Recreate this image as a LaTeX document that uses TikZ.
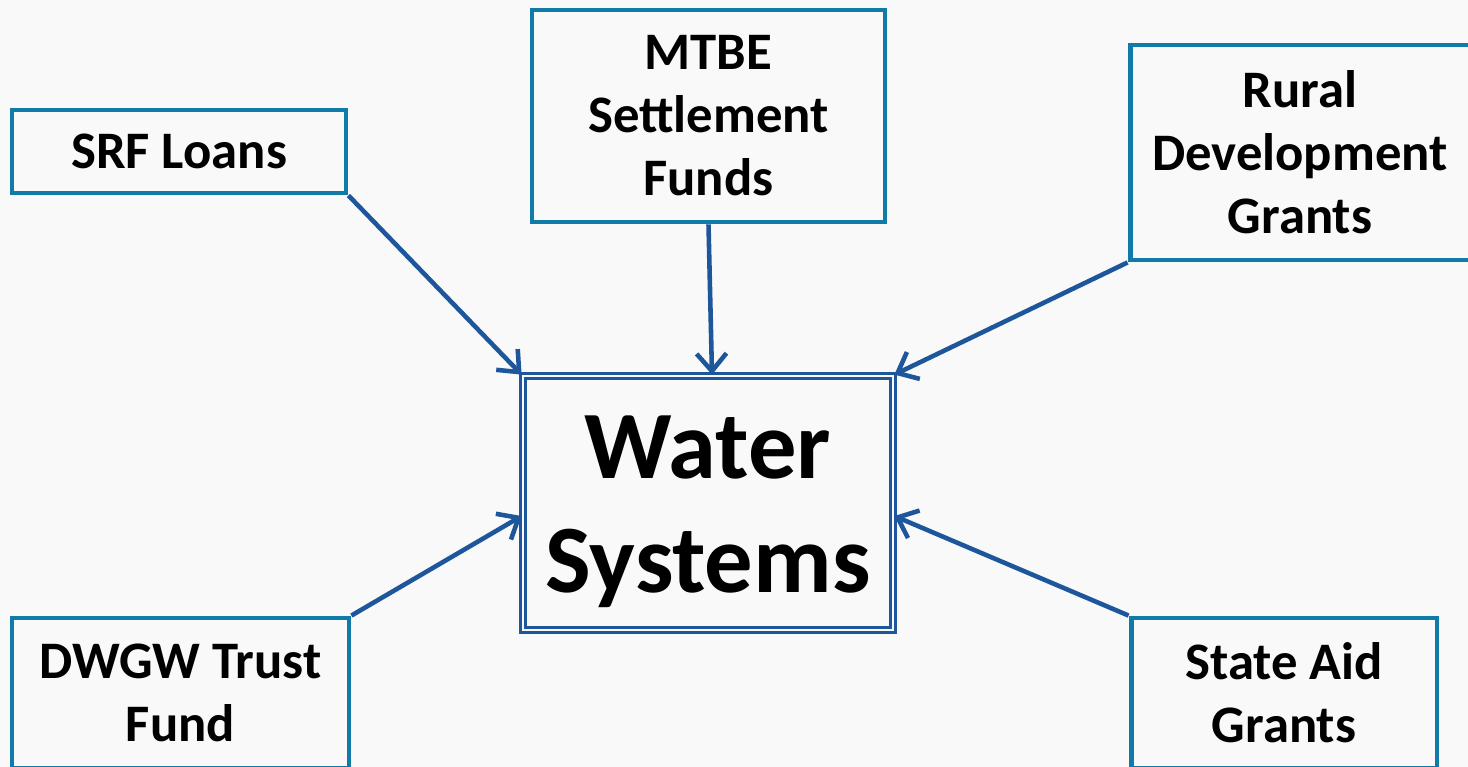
\documentclass[tikz,border=0pt]{standalone}
\usepackage{fontspec}
\setmainfont{Carlito}
\usetikzlibrary{arrows.meta}
\definecolor{boxteal}{RGB}{16,122,168}
\definecolor{arrowblue}{RGB}{30,86,155}
\definecolor{bgpaper}{RGB}{249,249,249}
\tikzset{
  fundbox/.style={draw=boxteal, line width=2.8pt, align=center, inner sep=0pt,
    font=\fontsize{30}{35.9}\selectfont\bfseries},
  hubbox/.style={draw=arrowblue, double=bgpaper, line width=1.6pt, double distance=1.3pt,
    align=center, inner sep=0pt, font=\fontsize{55}{64.6}\selectfont\bfseries},
  flow/.style={draw=arrowblue, line width=2.6pt,
    -{Straight Barb[length=10pt,width=17pt,line width=2.6pt]}}
}
\begin{document}
\begin{tikzpicture}[x=0.02cm,y=-0.02cm]
% page and background
\useasboundingbox (0,0) rectangle (1468,767);
\fill[bgpaper] (0,0) rectangle (1468,767);
\clip (0,0) rectangle (1468,767);
% central box
\node[hubbox, minimum width=7.4cm, minimum height=5.08cm] (water) at (708,503) {};
\node[align=center, inner sep=0pt, font=\fontsize{55}{64.6}\selectfont\bfseries] (watertext) at (708,512) {Water\\Systems};
% funding sources
\node[fundbox, minimum width=6.68cm, minimum height=1.66cm] (srf) at (179,151.5) {SRF Loans};
\node[fundbox, minimum width=7.06cm, minimum height=4.24cm] (mtbe) at (708.5,116) {MTBE\\Settlement\\Funds};
\node[fundbox, minimum width=6.8cm, minimum height=4.3cm] (rural) at (1300,152.5) {Rural\\Development\\Grants};
\node[fundbox, minimum width=6.74cm, minimum height=3cm] (dwgw) at (180.5,693) {DWGW Trust\\Fund};
\node[fundbox, minimum width=6.12cm, minimum height=3cm] (state) at (1284,693) {State Aid\\Grants};
% draw flows into the water systems
\draw[flow] (srf.south east) -- (water.north west);
\draw[flow] (mtbe.south) -- ([xshift=0.08cm]water.north);
\draw[flow] (rural.south west) -- (water.north east);
\draw[flow] (dwgw.north east) -- (water.184);
\draw[flow] (state.north west) -- (water.356);
\end{tikzpicture}
\end{document}
